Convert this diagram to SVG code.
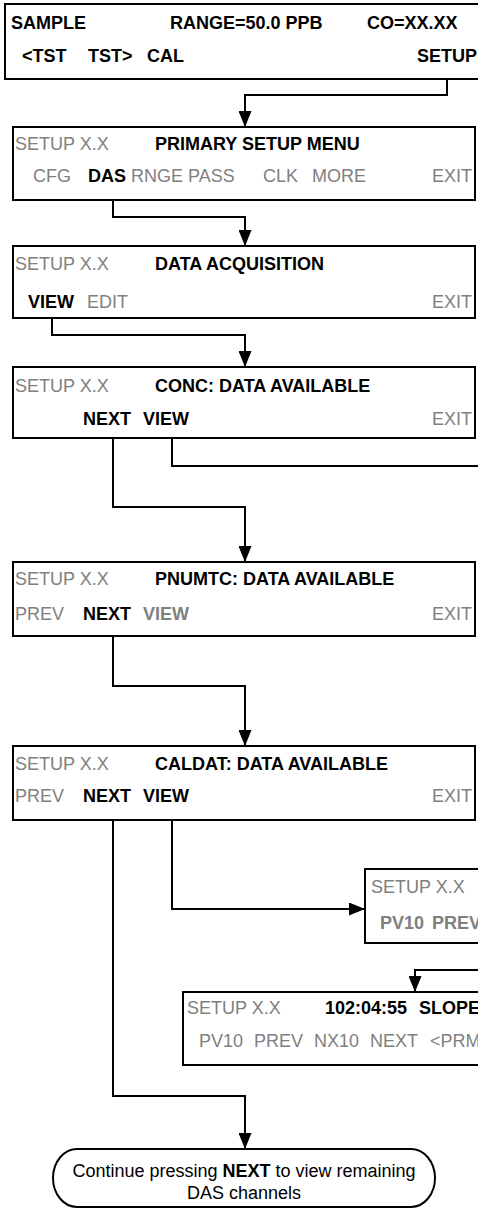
<svg xmlns="http://www.w3.org/2000/svg" width="478" height="1213" viewBox="0 0 478 1213">
<defs>
<style>
text{font-family:"Liberation Sans",Arial,Helvetica,sans-serif;font-size:18px}
.b{font-weight:bold;fill:#000}
.g{fill:#808080}
.gb{fill:#808080;font-weight:bold}
.k{fill:#000}
.box{fill:#fff;stroke:#000;stroke-width:2}
.c{fill:none;stroke:#000;stroke-width:2}
</style>
<marker id="ah" markerUnits="userSpaceOnUse" markerWidth="16" markerHeight="13" refX="16" refY="6.5" orient="auto">
<path d="M0,0 L16,6.5 L0,13 z" fill="#000"/>
</marker>
</defs>
<rect width="478" height="1213" fill="#fff"/>

<g id="connectors">
<path class="c" d="M447,79 V95 H245 V127" marker-end="url(#ah)"/>
<path class="c" d="M113,184 V217 H245 V246" marker-end="url(#ah)"/>
<path class="c" d="M52,310 V335 H245 V367" marker-end="url(#ah)"/>
<path class="c" d="M113,427 V507 H245 V562" marker-end="url(#ah)"/>
<path class="c" d="M172,427 V466 H480"/>
<path class="c" d="M113,622 V686 H245 V746" marker-end="url(#ah)"/>
<path class="c" d="M113,804 V1096 H245 V1149" marker-end="url(#ah)"/>
<path class="c" d="M172,804 V909 H365" marker-end="url(#ah)"/>
<path class="c" d="M480,970 H415 V992" marker-end="url(#ah)"/>
</g>

<g id="sample">
<rect class="box" x="5" y="4" width="480" height="75"/>
<text class="b" x="11" y="29">SAMPLE</text>
<text class="b" x="170" y="29">RANGE=50.0 PPB</text>
<text class="b" x="367" y="29">CO=XX.XX</text>
<text class="b" x="22" y="62">&lt;TST</text>
<text class="b" x="88" y="62">TST&gt;</text>
<text class="b" x="147" y="62">CAL</text>
<text class="b" x="477" y="62" text-anchor="end">SETUP</text>
</g>

<g id="primary-setup">
<rect class="box" x="13" y="127" width="462" height="73"/>
<text class="g" x="15" y="150">SETUP X.X</text>
<text class="b" x="155" y="150">PRIMARY SETUP MENU</text>
<text class="g" x="33" y="182">CFG</text>
<text class="b" x="88" y="182">DAS</text>
<text class="g" x="131" y="182">RNGE</text>
<text class="g" x="188" y="182">PASS</text>
<text class="g" x="263" y="182">CLK</text>
<text class="g" x="312" y="182">MORE</text>
<text class="g" x="472" y="182" text-anchor="end">EXIT</text>
</g>

<g id="data-acquisition">
<rect class="box" x="13" y="246" width="462" height="72"/>
<text class="g" x="15" y="270">SETUP X.X</text>
<text class="b" x="155" y="270">DATA ACQUISITION</text>
<text class="b" x="28" y="308">VIEW</text>
<text class="g" x="87" y="308">EDIT</text>
<text class="g" x="472" y="308" text-anchor="end">EXIT</text>
</g>

<g id="conc">
<rect class="box" x="13" y="367" width="462" height="71"/>
<text class="g" x="15" y="392">SETUP X.X</text>
<text class="b" x="155" y="392">CONC: DATA AVAILABLE</text>
<text class="b" x="83" y="425">NEXT</text>
<text class="b" x="143" y="425">VIEW</text>
<text class="g" x="472" y="425" text-anchor="end">EXIT</text>
</g>

<g id="pnumtc">
<rect class="box" x="13" y="562" width="462" height="74"/>
<text class="g" x="15" y="585">SETUP X.X</text>
<text class="b" x="155" y="585">PNUMTC: DATA AVAILABLE</text>
<text class="g" x="15" y="620">PREV</text>
<text class="b" x="83" y="620">NEXT</text>
<text class="gb" x="143" y="620">VIEW</text>
<text class="g" x="472" y="620" text-anchor="end">EXIT</text>
</g>

<g id="caldat">
<rect class="box" x="13" y="746" width="462" height="74"/>
<text class="g" x="15" y="770">SETUP X.X</text>
<text class="b" x="155" y="770">CALDAT: DATA AVAILABLE</text>
<text class="g" x="15" y="802">PREV</text>
<text class="b" x="83" y="802">NEXT</text>
<text class="b" x="143" y="802">VIEW</text>
<text class="g" x="472" y="802" text-anchor="end">EXIT</text>
</g>

<g id="view-screen">
<rect class="box" x="365" y="869" width="120" height="74"/>
<text class="g" x="371" y="893">SETUP X.X</text>
<text class="gb" x="380" y="929">PV10</text>
<text class="gb" x="432" y="929">PREV</text>
</g>

<g id="slope-screen">
<rect class="box" x="183" y="992" width="300" height="73"/>
<text class="g" x="187" y="1014">SETUP X.X</text>
<text class="b" x="325" y="1014">102:04:55</text>
<text class="b" x="419" y="1014">SLOPE</text>
<text class="g" x="199" y="1047">PV10</text>
<text class="g" x="254" y="1047">PREV</text>
<text class="g" x="314" y="1047">NX10</text>
<text class="g" x="370" y="1047">NEXT</text>
<text class="g" x="430" y="1047">&lt;PRM</text>
</g>

<g id="continue">
<rect class="box" x="53" y="1149" width="382" height="58" rx="24" ry="29"/>
<text class="k" x="244" y="1177" text-anchor="middle">Continue pressing <tspan font-weight="bold">NEXT</tspan> to view remaining</text>
<text class="k" x="244" y="1199" text-anchor="middle">DAS channels</text>
</g>
</svg>
